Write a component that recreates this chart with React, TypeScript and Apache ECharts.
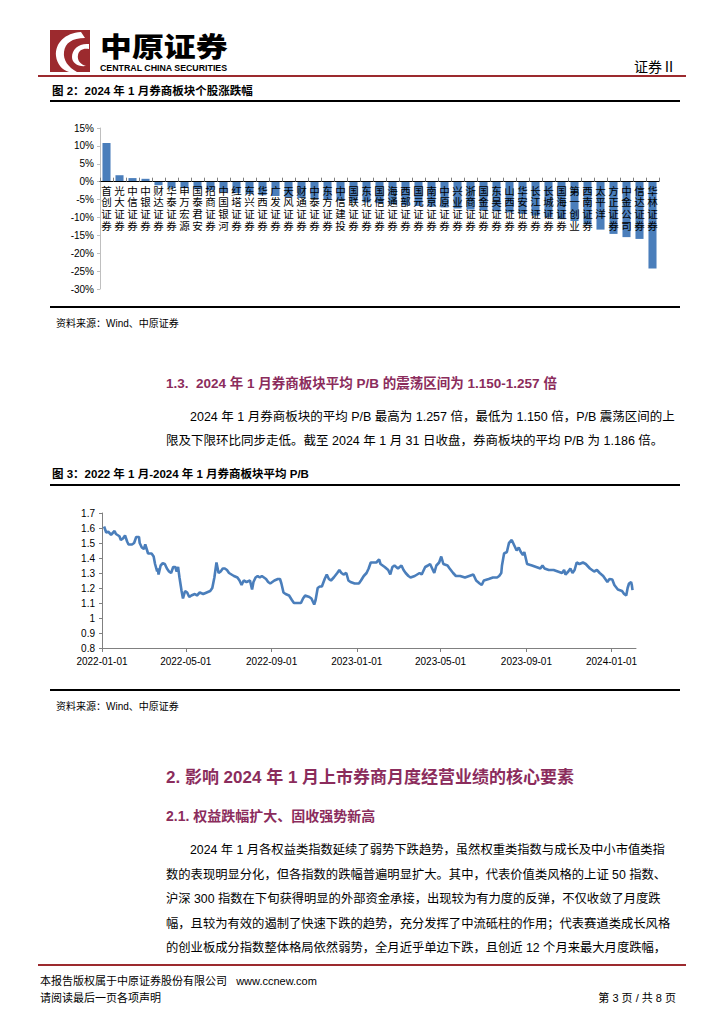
import React, { useEffect, useRef } from "react";
import * as echarts from "echarts";

// ---------- DATA ----------
const brokers = [
  "首创证券", "光大证券", "中信证券", "中银证券", "财达证券", "华泰证券", "申万宏源", "国泰君安", "招商证券", "中国银河",
  "红塔证券", "东兴证券", "华西证券", "广发证券", "天风证券", "财通证券", "中泰证券", "东方证券", "中信建投", "国联证券",
  "东北证券", "国信证券", "海通证券", "西部证券", "国元证券", "南京证券", "中原证券", "兴业证券", "浙商证券", "国金证券",
  "东吴证券", "山西证券", "华安证券", "长江证券", "长城证券", "国海证券", "第一创业", "西南证券", "太平洋", "方正证券",
  "中金公司", "信达证券", "华林证券",
];
const changes = [
  10.8, 1.8, 1.0, 0.8, -1.0, -1.7, -1.8, -2.1, -2.4, -2.9,
  -3.2, -3.5, -3.8, -4.0, -4.3, -4.6, -4.8, -5.0, -5.3, -5.6,
  -5.8, -6.0, -6.3, -6.6, -6.8, -7.0, -7.2, -7.5, -7.8, -8.0,
  -8.3, -8.6, -9.0, -9.5, -10.0, -10.5, -11.0, -12.0, -13.4, -14.6,
  -15.5, -16.0, -24.3,
];
const changeAxis = { min: -30, max: 15, step: 5 };

const pbSeries: [string, number][] = [
  ["2022-01-04", 1.61], ["2022-01-07", 1.57], ["2022-01-10", 1.575], ["2022-01-14", 1.555], ["2022-01-19", 1.58],
  ["2022-01-21", 1.56], ["2022-01-26", 1.545], ["2022-01-28", 1.52], ["2022-01-31", 1.53], ["2022-02-03", 1.55],
  ["2022-02-06", 1.51], ["2022-02-08", 1.49], ["2022-02-13", 1.49], ["2022-02-16", 1.5], ["2022-02-19", 1.54],
  ["2022-02-23", 1.54], ["2022-02-24", 1.5], ["2022-02-27", 1.47], ["2022-03-02", 1.46], ["2022-03-04", 1.49],
  ["2022-03-06", 1.46], ["2022-03-08", 1.43], ["2022-03-13", 1.43], ["2022-03-16", 1.41], ["2022-03-18", 1.36],
  ["2022-03-21", 1.31], ["2022-03-22", 1.33], ["2022-03-23", 1.29], ["2022-03-26", 1.35], ["2022-03-29", 1.365],
  ["2022-04-01", 1.36], ["2022-04-04", 1.33], ["2022-04-07", 1.31], ["2022-04-10", 1.3], ["2022-04-13", 1.34],
  ["2022-04-16", 1.34], ["2022-04-18", 1.31], ["2022-04-20", 1.34], ["2022-04-22", 1.27], ["2022-04-25", 1.18],
  ["2022-04-27", 1.13], ["2022-04-30", 1.18], ["2022-05-03", 1.17], ["2022-05-06", 1.14], ["2022-05-09", 1.15],
  ["2022-05-14", 1.16], ["2022-05-17", 1.15], ["2022-05-21", 1.17], ["2022-05-26", 1.16], ["2022-05-31", 1.17],
  ["2022-06-05", 1.18], ["2022-06-08", 1.2], ["2022-06-11", 1.27], ["2022-06-14", 1.37], ["2022-06-17", 1.3],
  ["2022-06-20", 1.31], ["2022-06-23", 1.33], ["2022-06-26", 1.33], ["2022-06-29", 1.32], ["2022-07-02", 1.3],
  ["2022-07-09", 1.28], ["2022-07-14", 1.27], ["2022-07-17", 1.25], ["2022-07-20", 1.22], ["2022-07-23", 1.25],
  ["2022-07-27", 1.24], ["2022-08-01", 1.25], ["2022-08-02", 1.23], ["2022-08-04", 1.19], ["2022-08-06", 1.24],
  ["2022-08-09", 1.27], ["2022-08-12", 1.28], ["2022-08-15", 1.27], ["2022-08-18", 1.28], ["2022-08-21", 1.27],
  ["2022-08-24", 1.26], ["2022-08-27", 1.24], ["2022-08-30", 1.23], ["2022-09-02", 1.24], ["2022-09-05", 1.25],
  ["2022-09-10", 1.26], ["2022-09-13", 1.26], ["2022-09-15", 1.23], ["2022-09-18", 1.17], ["2022-09-21", 1.16],
  ["2022-09-26", 1.15], ["2022-09-30", 1.12], ["2022-10-03", 1.1], ["2022-10-09", 1.1], ["2022-10-13", 1.1],
  ["2022-10-16", 1.13], ["2022-10-19", 1.15], ["2022-10-25", 1.14], ["2022-10-28", 1.13], ["2022-10-31", 1.1],
  ["2022-11-01", 1.09], ["2022-11-03", 1.12], ["2022-11-06", 1.2], ["2022-11-09", 1.21], ["2022-11-12", 1.21],
  ["2022-11-16", 1.26], ["2022-11-19", 1.29], ["2022-11-22", 1.26], ["2022-11-25", 1.25], ["2022-11-29", 1.27],
  ["2022-12-04", 1.3], ["2022-12-07", 1.32], ["2022-12-10", 1.3], ["2022-12-13", 1.29], ["2022-12-17", 1.3],
  ["2022-12-20", 1.25], ["2022-12-23", 1.24], ["2022-12-29", 1.23], ["2023-01-04", 1.23], ["2023-01-07", 1.25],
  ["2023-01-11", 1.28], ["2023-01-15", 1.3], ["2023-01-18", 1.33], ["2023-01-21", 1.37], ["2023-01-26", 1.37],
  ["2023-01-29", 1.37], ["2023-02-02", 1.39], ["2023-02-04", 1.36], ["2023-02-10", 1.34], ["2023-02-15", 1.32],
  ["2023-02-18", 1.29], ["2023-02-21", 1.34], ["2023-02-24", 1.35], ["2023-03-01", 1.33], ["2023-03-06", 1.35],
  ["2023-03-09", 1.32], ["2023-03-12", 1.3], ["2023-03-16", 1.28], ["2023-03-19", 1.27], ["2023-03-25", 1.28],
  ["2023-04-01", 1.3], ["2023-04-04", 1.29], ["2023-04-09", 1.34], ["2023-04-13", 1.35], ["2023-04-16", 1.36],
  ["2023-04-19", 1.33], ["2023-04-22", 1.3], ["2023-04-25", 1.35], ["2023-04-29", 1.37], ["2023-05-02", 1.41],
  ["2023-05-05", 1.36], ["2023-05-11", 1.35], ["2023-05-14", 1.33], ["2023-05-19", 1.3], ["2023-05-23", 1.28],
  ["2023-05-29", 1.28], ["2023-06-05", 1.27], ["2023-06-11", 1.28], ["2023-06-17", 1.29], ["2023-06-21", 1.25],
  ["2023-06-26", 1.23], ["2023-06-29", 1.22], ["2023-07-02", 1.25], ["2023-07-09", 1.26], ["2023-07-15", 1.27],
  ["2023-07-21", 1.27], ["2023-07-24", 1.28], ["2023-07-27", 1.3], ["2023-07-28", 1.35], ["2023-07-31", 1.43],
  ["2023-08-04", 1.44], ["2023-08-07", 1.5], ["2023-08-11", 1.52], ["2023-08-15", 1.48], ["2023-08-18", 1.45],
  ["2023-08-21", 1.47], ["2023-08-24", 1.44], ["2023-08-27", 1.42], ["2023-08-29", 1.44], ["2023-08-31", 1.4],
  ["2023-09-02", 1.36], ["2023-09-09", 1.35], ["2023-09-15", 1.34], ["2023-09-21", 1.33], ["2023-09-24", 1.35],
  ["2023-09-27", 1.33], ["2023-10-03", 1.32], ["2023-10-10", 1.32], ["2023-10-16", 1.31], ["2023-10-22", 1.3],
  ["2023-10-25", 1.32], ["2023-10-27", 1.29], ["2023-10-31", 1.31], ["2023-11-03", 1.33], ["2023-11-06", 1.3],
  ["2023-11-09", 1.32], ["2023-11-12", 1.37], ["2023-11-16", 1.36], ["2023-11-21", 1.37], ["2023-11-25", 1.36],
  ["2023-12-01", 1.33], ["2023-12-07", 1.31], ["2023-12-11", 1.32], ["2023-12-15", 1.3], ["2023-12-20", 1.28],
  ["2023-12-23", 1.26], ["2023-12-26", 1.24], ["2023-12-29", 1.26], ["2024-01-02", 1.257], ["2024-01-05", 1.22],
  ["2024-01-10", 1.19], ["2024-01-16", 1.18], ["2024-01-19", 1.16], ["2024-01-22", 1.15], ["2024-01-24", 1.2],
  ["2024-01-26", 1.23], ["2024-01-29", 1.24], ["2024-01-30", 1.22], ["2024-01-31", 1.186],
];
const pbTickDates = ["2022-01-01", "2022-05-01", "2022-09-01", "2023-01-01", "2023-05-01", "2023-09-01", "2024-01-01"];
const pbRange = { min: "2022-01-01", max: "2024-02-05" };
const pbAxis = { min: 0.8, max: 1.7, step: 0.1 };

const texts = {
  headerRight: "证券Ⅱ",
  logoCn: "中原证券",
  logoEn: "CENTRAL CHINA SECURITIES",
  fig2: "图 2：2024 年 1 月券商板块个股涨跌幅",
  source: "资料来源：Wind、中原证券",
  h13: "1.3.  2024 年 1 月券商板块平均 P/B 的震荡区间为 1.150-1.257 倍",
  p13: [
    "2024 年 1 月券商板块的平均 P/B 最高为 1.257 倍，最低为 1.150 倍，P/B 震荡区间的上",
    "限及下限环比同步走低。截至 2024 年 1 月 31 日收盘，券商板块的平均 P/B 为 1.186 倍。",
  ],
  fig3: "图 3：2022 年 1 月-2024 年 1 月券商板块平均 P/B",
  h2: "2. 影响 2024 年 1 月上市券商月度经营业绩的核心要素",
  h21: "2.1. 权益跌幅扩大、固收强势新高",
  p21: [
    "2024 年 1 月各权益类指数延续了弱势下跌趋势，虽然权重类指数与成长及中小市值类指",
    "数的表现明显分化，但各指数的跌幅普遍明显扩大。其中，代表价值类风格的上证 50 指数、",
    "沪深 300 指数在下旬获得明显的外部资金承接，出现较为有力度的反弹，不仅收敛了月度跌",
    "幅，且较为有效的遏制了快速下跌的趋势，充分发挥了中流砥柱的作用；代表赛道类成长风格",
    "的创业板成分指数整体格局依然弱势，全月近乎单边下跌，且创近 12 个月来最大月度跌幅，",
  ],
  foot1: "本报告版权属于中原证券股份有限公司   www.ccnew.com",
  foot2: "请阅读最后一页各项声明",
  footPage: "第 3 页 / 共 8 页",
};

// ---------- STYLE ----------
const FONT = '"Liberation Sans", "Noto Sans CJK SC", sans-serif';
const CJK = '"Noto Sans CJK SC", sans-serif';
const RED = "#9c2a2e";
const PLUM = "#8b2c5c";
const BLUE = "#4a7ebb";

const LOGO_D =
  "M31 2 C15 3 5 13 6 26 C7 34 12 40 19 42 L27 42 C18 37 13 30 14 22 C15 13 22 8 35 8 Z " +
  "M39 14 C29 13 22 19 22 27 C22 33 28 37 36 36 C30 34 27 30 28 25 C29 20 33 18 39 19 Z";
let logoRegistered = false;
function ensureLogo() {
  if (logoRegistered) return;
  echarts.graphic.registerShape("logoSwoosh", echarts.graphic.extendPath(LOGO_D, {}));
  logoRegistered = true;
}

const ts = (s: string) => new Date(s + "T00:00:00").getTime();
const pad = (n: number) => (n < 10 ? "0" + n : "" + n);
const fmtDate = (v: number) => {
  const d = new Date(v);
  return d.getFullYear() + "-" + pad(d.getMonth() + 1) + "-" + pad(d.getDate());
};

function txt(x: number, y: number, text: string, size: number, o: any = {}) {
  return {
    type: "text",
    x,
    y,
    scaleX: o.scaleX || 1,
    silent: true,
    style: {
      text,
      fontSize: size,
      fontFamily: o.family || FONT,
      fontWeight: o.bold ? (o.weight || "bold") : "normal",
      fill: o.fill || "#000",
      align: o.align || "left",
      verticalAlign: "middle",
    },
  };
}
function hline(x1: number, x2: number, y: number, color: string, w: number) {
  return { type: "line", silent: true, shape: { x1, y1: y, x2, y2: y }, style: { stroke: color, lineWidth: w } };
}

// grid geometry of the bar chart
const BAR_TOP = 128;
const BAR_H = 161;

export default function App() {
  const ref = useRef<HTMLDivElement>(null);
  useEffect(() => {
    if (!ref.current) return;
    ensureLogo();
    const chart = echarts.init(ref.current, null, { renderer: "svg" });
    const tickTs = pbTickDates.map(ts);
    // move the category axis up from the grid bottom onto the zero line
    const zeroOffset = -(BAR_H * (0 - changeAxis.min)) / (changeAxis.max - changeAxis.min);

    const graphic: any[] = [
      { type: "rect", silent: true, shape: { x: 50, y: 30, width: 40, height: 42 }, style: { fill: RED } },
      { type: "logoSwoosh", x: 50, y: 30, scaleX: 1, scaleY: 1, silent: true, style: { fill: "#fff" } },
      txt(100, 44.5, texts.logoCn, 27.5, { bold: true, weight: 900, family: CJK, scaleX: 1.16 }),
      txt(100, 67.5, texts.logoEn, 8.8, { bold: true }),
      txt(676, 66, texts.headerRight, 14, { align: "right", family: CJK }),
      hline(38, 686, 76, RED, 2),
      txt(52, 91, texts.fig2, 11.5, { bold: true }),
      hline(50, 680, 101, "#000", 2),
      hline(50, 680, 307, "#000", 2),
      txt(56, 323, texts.source, 10),
      txt(166, 383, texts.h13, 13.5, { bold: true, fill: PLUM }),
      txt(190, 417, texts.p13[0], 12.5),
      txt(166, 441, texts.p13[1], 12.5),
      txt(52, 474, texts.fig3, 11.5, { bold: true }),
      hline(50, 680, 485, "#000", 2),
      hline(50, 680, 690, "#000", 2),
      txt(56, 706, texts.source, 10),
      txt(166, 777, texts.h2, 17, { bold: true, fill: PLUM }),
      txt(166, 816, texts.h21, 14, { bold: true, fill: PLUM }),
      ...texts.p21.map((t, i) => txt(i === 0 ? 190 : 166, 850 + i * 24.5, t, 12.3)),
      hline(38, 686, 965, RED, 2),
      txt(40, 981, texts.foot1, 11),
      txt(40, 998, texts.foot2, 11),
      txt(676, 998, texts.footPage, 11, { align: "right" }),
    ];

    chart.setOption({
      animation: false,
      backgroundColor: "#fff",
      textStyle: { fontFamily: FONT },
      grid: [
        { left: 100, top: BAR_TOP, width: 559, height: BAR_H, containLabel: false },
        { left: 102, top: 513, width: 534, height: 135, containLabel: false },
      ],
      xAxis: [
        {
          type: "category",
          gridIndex: 0,
          data: brokers,
          z: 10,
          offset: zeroOffset,
          axisLine: { onZero: false, lineStyle: { color: "#000", width: 1 } },
          axisTick: { show: true, inside: true, length: 4, alignWithLabel: false, lineStyle: { color: "#808080" } },
          axisLabel: {
            interval: 0,
            margin: 3,
            fontSize: 10.5,
            lineHeight: 11.8,
            color: "#000",
            fontFamily: FONT,
            formatter: (v: string) => v.split("").join("\n"),
          },
        },
        {
          type: "value",
          gridIndex: 1,
          min: ts(pbRange.min),
          max: ts(pbRange.max),
          scale: true,
          axisLine: { lineStyle: { color: "#808080", width: 1 } },
          axisTick: { show: true, length: 4, customValues: tickTs, lineStyle: { color: "#808080" } },
          axisLabel: {
            customValues: tickTs,
            fontSize: 10,
            color: "#000",
            margin: 8,
            formatter: (v: number) => fmtDate(v),
          },
          splitLine: { show: false },
        },
      ],
      yAxis: [
        {
          type: "value",
          gridIndex: 0,
          min: changeAxis.min,
          max: changeAxis.max,
          interval: changeAxis.step,
          axisLine: { show: true, lineStyle: { color: "#bfbfbf" } },
          axisTick: { show: true, length: 3, lineStyle: { color: "#bfbfbf" } },
          splitLine: { show: false },
          axisLabel: { fontSize: 10, color: "#000", margin: 6, formatter: (v: number) => v + "%" },
        },
        {
          type: "value",
          gridIndex: 1,
          min: pbAxis.min,
          max: pbAxis.max,
          interval: pbAxis.step,
          axisLine: { show: true, lineStyle: { color: "#808080" } },
          axisTick: { show: true, length: 3, lineStyle: { color: "#808080" } },
          splitLine: { show: false },
          axisLabel: {
            fontSize: 10,
            color: "#000",
            margin: 7,
            formatter: (v: number) => String(Math.round(v * 10) / 10),
          },
        },
      ],
      series: [
        {
          type: "bar",
          xAxisIndex: 0,
          yAxisIndex: 0,
          data: changes,
          barWidth: "62%",
          itemStyle: { color: BLUE },
          z: 2,
        },
        {
          type: "line",
          xAxisIndex: 1,
          yAxisIndex: 1,
          data: pbSeries.map(([d, v]) => [ts(d), v]),
          showSymbol: false,
          lineStyle: { color: BLUE, width: 2.6 },
          z: 3,
        },
      ],
      graphic,
    });
    return () => chart.dispose();
  }, []);
  return <div ref={ref} style={{ position: "absolute", left: 0, top: 0, width: 724, height: 1024 }} />;
}
